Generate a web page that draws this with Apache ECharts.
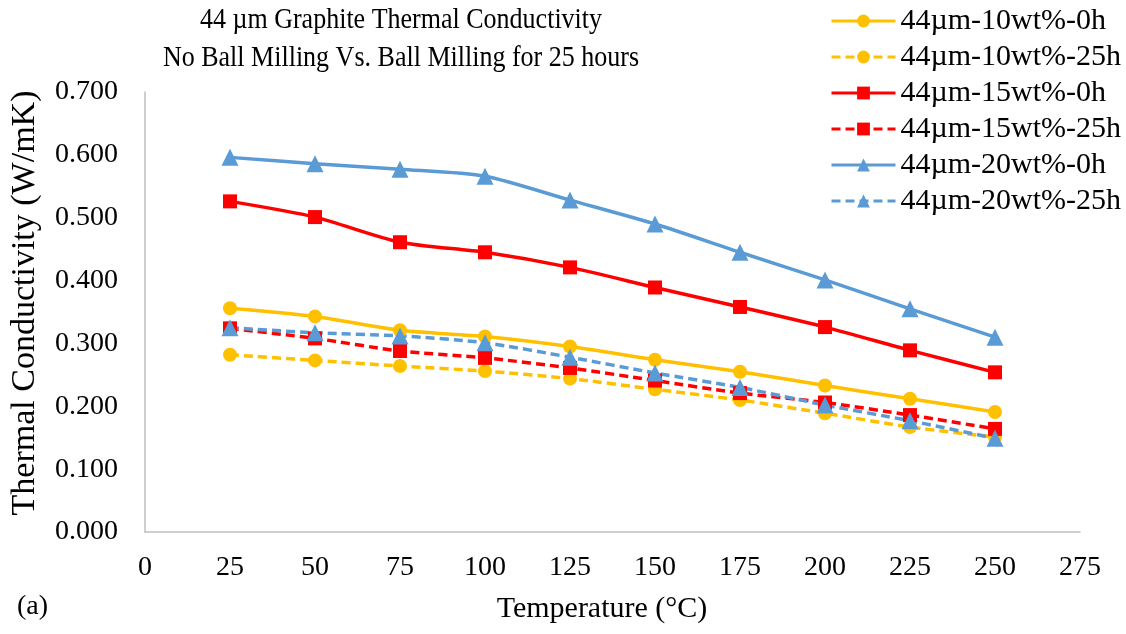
<!DOCTYPE html>
<html>
<head>
<meta charset="utf-8">
<script src="https://cdn.jsdelivr.net/npm/echarts@6/dist/echarts.min.js"></script>
<style>
  html, body { margin: 0; padding: 0; background: #fff; }
  #chart { width: 1126px; height: 634px; }
</style>
</head>
<body>
<div id="chart"></div>
<script>
// Temperatures (°C) at which conductivity was measured
const temperatures = [25, 50, 75, 100, 125, 150, 175, 200, 225, 250];

// Thermal conductivity (W/mK) per sample
const k10wt0h  = [0.356, 0.343, 0.321, 0.311, 0.295, 0.274, 0.255, 0.233, 0.212, 0.191];
const k10wt25h = [0.282, 0.273, 0.264, 0.256, 0.244, 0.227, 0.210, 0.189, 0.167, 0.151];
const k15wt0h  = [0.526, 0.501, 0.461, 0.445, 0.421, 0.389, 0.358, 0.326, 0.289, 0.254];
const k15wt25h = [0.324, 0.308, 0.288, 0.277, 0.261, 0.241, 0.221, 0.206, 0.186, 0.164];
const k20wt0h  = [0.596, 0.586, 0.577, 0.566, 0.528, 0.490, 0.445, 0.401, 0.355, 0.310];
const k20wt25h = [0.325, 0.317, 0.312, 0.301, 0.278, 0.253, 0.230, 0.202, 0.177, 0.149];

const seriesNames = [
  '44µm-10wt%-0h', '44µm-10wt%-25h',
  '44µm-15wt%-0h', '44µm-15wt%-25h',
  '44µm-20wt%-0h', '44µm-20wt%-25h'
];

const titleLines = ['44 µm Graphite Thermal Conductivity', 'No Ball Milling Vs. Ball Milling for 25 hours'];
const xAxisTitle = 'Temperature (°C)';
const yAxisTitle = 'Thermal Conductivity (W/mK)';
const panelLabel = '(a)';

const FONT = '"Liberation Serif", "Times New Roman", serif';
const YELLOW = '#FFC000', RED = '#FF0000', BLUE = '#5B9BD5';

function pairs(vals) {
  return temperatures.map((t, i) => [t, vals[i]]);
}

function makeSeries(name, vals, color, symbol, size, dashed) {
  return {
    name: name,
    type: 'line',
    data: pairs(vals),
    smooth: 0.25,
    symbol: symbol,
    symbolSize: size,
    lineStyle: { color: color, width: 3.5, type: dashed ? [9, 5] : 'solid' },
    itemStyle: { color: color, borderWidth: 0 },
    emphasis: { disabled: true }
  };
}

const chart = echarts.init(document.getElementById('chart'), null, { renderer: 'canvas' });

chart.setOption({
  animation: false,
  backgroundColor: '#ffffff',
  grid: { left: 145, right: 46, top: 92, bottom: 102, outerBoundsMode: 'none', containLabel: false },
  graphic: [
    {
      // two-line heading, set in a slightly condensed serif
      type: 'text', x: 401, y: 39, scaleX: 0.867,
      style: {
        text: titleLines.join('\n'), font: '30px ' + FONT, fill: '#000',
        textAlign: 'center', textVerticalAlign: 'middle', lineHeight: 38
      }
    },
    {
      type: 'text', x: 602, y: 609,
      style: { text: xAxisTitle, font: '30px ' + FONT, fill: '#000',
               textAlign: 'center', textVerticalAlign: 'middle' }
    },
    {
      type: 'text', x: 25, y: 303, rotation: Math.PI / 2,
      style: { text: yAxisTitle, font: '34px ' + FONT, fill: '#000',
               textAlign: 'center', textVerticalAlign: 'middle' }
    },
    {
      type: 'text', x: 17, y: 607,
      style: { text: panelLabel, font: '28px ' + FONT, fill: '#000', textVerticalAlign: 'middle' }
    }
  ],
  legend: {
    orient: 'vertical',
    left: 825, top: 0,
    itemWidth: 64, itemHeight: 16, itemGap: 4,
    lineStyle: { width: 3 },
    textStyle: { fontFamily: FONT, fontSize: 30, color: '#000', lineHeight: 32 },
    data: seriesNames
  },
  xAxis: {
    type: 'value', min: 0, max: 275, interval: 25,
    axisLine: { show: true, lineStyle: { color: '#bfbfbf', width: 1.5 } },
    axisTick: { show: false },
    splitLine: { show: false },
    axisLabel: { fontFamily: FONT, fontSize: 28, color: '#000', margin: 22 }
  },
  yAxis: {
    type: 'value', min: 0, max: 0.7, interval: 0.1,
    axisLine: { show: true, lineStyle: { color: '#bfbfbf', width: 1.5 } },
    axisTick: { show: false },
    splitLine: { show: false },
    axisLabel: { fontFamily: FONT, fontSize: 28, color: '#000', margin: 27,
                 formatter: v => v.toFixed(3) }
  },
  series: [
    makeSeries(seriesNames[0], k10wt0h,  YELLOW, 'circle',   14, false),
    makeSeries(seriesNames[1], k10wt25h, YELLOW, 'circle',   14, true),
    makeSeries(seriesNames[2], k15wt0h,  RED,    'rect',     14, false),
    makeSeries(seriesNames[3], k15wt25h, RED,    'rect',     14, true),
    makeSeries(seriesNames[4], k20wt0h,  BLUE,   'triangle', 17, false),
    makeSeries(seriesNames[5], k20wt25h, BLUE,   'triangle', 17, true)
  ]
});
</script>
</body>
</html>
